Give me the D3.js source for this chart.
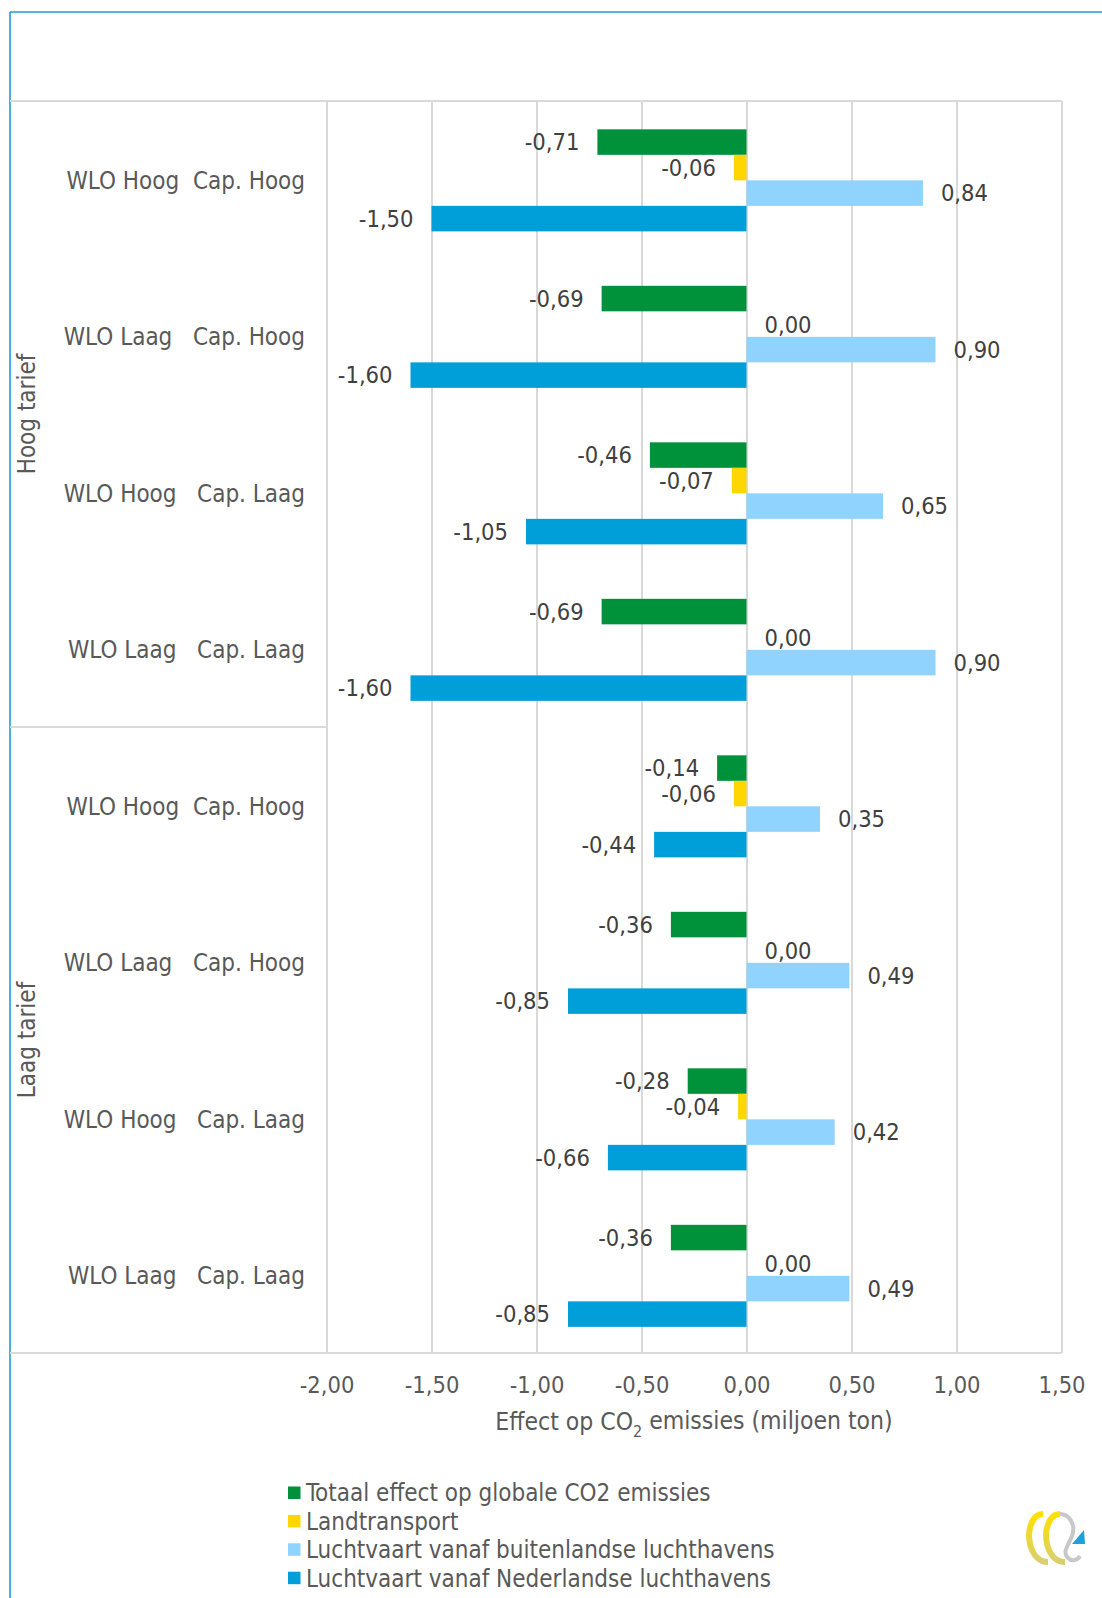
<!DOCTYPE html>
<html>
<head>
<meta charset="utf-8">
<script src="https://cdn.jsdelivr.net/npm/d3@7"></script>
<style>
  html, body { margin: 0; padding: 0; background: #ffffff; }
  svg { display: block; }
  text { font-family: "DejaVu Sans Condensed", "DejaVu Sans", sans-serif; font-stretch: condensed; }
</style>
</head>
<body>
<svg id="chart" width="1102" height="1598"></svg>
<script>
// ---- Data ----
const categories = [
  "WLO Hoog  Cap. Hoog", "WLO Laag   Cap. Hoog", "WLO Hoog   Cap. Laag", "WLO Laag   Cap. Laag",
  "WLO Hoog  Cap. Hoog", "WLO Laag   Cap. Hoog", "WLO Hoog   Cap. Laag", "WLO Laag   Cap. Laag"
];
const groups = ["Hoog tarief", "Laag tarief"];
const seriesNames = [
  "Totaal effect op globale CO2 emissies",
  "Landtransport",
  "Luchtvaart vanaf buitenlandse luchthavens",
  "Luchtvaart vanaf Nederlandse luchthavens"
];
const totaal       = [-0.71, -0.69, -0.46, -0.69, -0.14, -0.36, -0.28, -0.36];
const landtransport = [-0.06,  0.00, -0.07,  0.00, -0.06,  0.00, -0.04,  0.00];
const buitenlands  = [ 0.84,  0.90,  0.65,  0.90,  0.35,  0.49,  0.42,  0.49];
const nederlands   = [-1.50, -1.60, -1.05, -1.60, -0.44, -0.85, -0.66, -0.85];
const seriesValues = [totaal, landtransport, buitenlands, nederlands];
const xTicks = [-2.0, -1.5, -1.0, -0.5, 0.0, 0.5, 1.0, 1.5];
const axisTitle = ["Effect op CO", "2", " emissies (miljoen ton)"];

const colors = ["#00923A", "#FFD600", "#8FD3FE", "#009FDA"];

// ---- Layout ----
const svg = d3.select("#chart");
const plotLeft = 326.5, plotRight = 1061.5, plotTop = 101, plotBottom = 1353;
const frameLeft = 10, frameTop = 12;
const fmt = v => d3.format(".2f")(v).replace(".", ",").replace("\u2212", "-");

const x = d3.scaleLinear().domain([-2, 1.5]).range([plotLeft, plotRight]);
const y = d3.scaleBand().domain(d3.range(categories.length)).range([plotTop, plotBottom]);
const bw = y.bandwidth();
const inner = d3.scaleBand().domain(d3.range(seriesNames.length))
  .range([bw * 0.181, bw * 0.833]);

// outer blue frame
svg.append("line").attr("x1", frameLeft).attr("x2", 1102).attr("y1", frameTop).attr("y2", frameTop)
  .attr("stroke", "#1E9BD7").attr("stroke-width", 1.6);
svg.append("line").attr("x1", frameLeft).attr("x2", frameLeft).attr("y1", frameTop).attr("y2", 1598)
  .attr("stroke", "#1E9BD7").attr("stroke-width", 1.6);

// gridlines
const gridColor = "#D9D9D9";
const grid = svg.append("g").attr("transform", `translate(0,${plotBottom})`)
  .call(d3.axisBottom(x).tickValues(xTicks).tickSize(-(plotBottom - plotTop)).tickFormat(""));
grid.select(".domain").remove();
grid.selectAll("line").attr("stroke", gridColor).attr("stroke-width", 2);

// horizontal frame lines
svg.append("line").attr("x1", frameLeft).attr("x2", plotRight).attr("y1", plotTop).attr("y2", plotTop)
  .attr("stroke", gridColor).attr("stroke-width", 2);
svg.append("line").attr("x1", frameLeft).attr("x2", plotRight).attr("y1", plotBottom).attr("y2", plotBottom)
  .attr("stroke", gridColor).attr("stroke-width", 2);
// group separator in label column
const sepY = y(4);
svg.append("line").attr("x1", frameLeft).attr("x2", plotLeft).attr("y1", sepY).attr("y2", sepY)
  .attr("stroke", gridColor).attr("stroke-width", 2);

// bars
const barsG = svg.append("g");
seriesValues.forEach((vals, si) => {
  const g = barsG.append("g");
  g.selectAll("rect").data(vals).join("rect")
    .attr("x", d => x(Math.min(0, d)))
    .attr("width", d => Math.abs(x(d) - x(0)))
    .attr("y", (d, i) => y(i) + inner(si))
    .attr("height", inner.bandwidth())
    .attr("fill", colors[si]);
  g.selectAll("text").data(vals).join("text")
    .attr("x", d => d < 0 ? x(d) - 18 : x(d) + 18)
    .attr("y", (d, i) => y(i) + inner(si) + inner.bandwidth() / 2 + (d === 0 ? 1 : 0))
    .attr("dy", "0.35em")
    .attr("text-anchor", d => d < 0 ? "end" : "start")
    .attr("font-size", 23.5)
    .attr("fill", "#404040")
    .text(d => fmt(d));
});

// category labels
svg.append("g").selectAll("text").data(categories).join("text")
  .attr("x", 305)
  .attr("y", (d, i) => y(i) + bw / 2 + 1)
  .attr("dy", "0.35em")
  .attr("text-anchor", "end")
  .attr("font-size", 24)
  .attr("fill", "#595959")
  .attr("xml:space", "preserve")
  .style("white-space", "pre")
  .text(d => d);

// group labels (rotated)
svg.append("g").selectAll("text").data(groups).join("text")
  .attr("transform", (d, i) => `translate(27,${y(i * 4) + bw * 2}) rotate(-90)`)
  .attr("dy", "0.35em")
  .attr("text-anchor", "middle")
  .attr("font-size", 24)
  .attr("fill", "#595959")
  .text(d => d);

// x axis tick labels
const ax = svg.append("g").attr("transform", `translate(0,${plotBottom})`)
  .call(d3.axisBottom(x).tickValues(xTicks).tickSize(0).tickPadding(0).tickFormat(fmt));
ax.select(".domain").remove();
ax.selectAll("text").attr("y", 32).attr("dy", "0.35em").attr("font-size", 23.5).attr("fill", "#595959")
  .attr("font-family", null);

// axis title
const at = svg.append("text").attr("x", (plotLeft + plotRight) / 2).attr("y", 1421).attr("dy", "0.35em")
  .attr("text-anchor", "middle").attr("font-size", 24.5).attr("fill", "#595959");
at.append("tspan").text(axisTitle[0]);
at.append("tspan").attr("font-size", 16).attr("dy", "0.45em").text(axisTitle[1]);
at.append("tspan").attr("dy", "-0.3em").text(axisTitle[2]);

// legend
const lg = svg.append("g").selectAll("g").data(seriesNames).join("g")
  .attr("transform", (d, i) => `translate(288,${1493 + i * 28.4})`);
lg.append("rect").attr("x", 0).attr("y", -6.5).attr("width", 12.5).attr("height", 12.5)
  .attr("fill", (d, i) => colors[i]);
lg.append("text").attr("x", 18).attr("dy", "0.35em").attr("font-size", 24).attr("fill", "#595959")
  .text(d => d);

// logo (decorative)
const logo = svg.append("g").attr("transform", "translate(1010,1500)");
const yg = logo.append("defs").append("linearGradient").attr("id", "yg")
  .attr("x1", 0).attr("y1", 0).attr("x2", 0).attr("y2", 1);
yg.append("stop").attr("offset", "0%").attr("stop-color", "#FFE000");
yg.append("stop").attr("offset", "100%").attr("stop-color", "#D8D070");
logo.append("path").attr("d", "M33,14 C22,14 17,30 20,44 C23,56 30,62 38,62")
  .attr("fill", "none").attr("stroke", "url(#yg)").attr("stroke-width", 6);
logo.append("path").attr("d", "M50,14 C39,14 34,30 37,44 C40,56 47,62 55,62")
  .attr("fill", "none").attr("stroke", "url(#yg)").attr("stroke-width", 6);
logo.append("path").attr("d", "M50,14 C60,14 66,26 62,36 C58,46 52,52 58,58 C62,62 68,60 70,56")
  .attr("fill", "none").attr("stroke", "#C8C8C8").attr("stroke-width", 4);
logo.append("path").attr("d", "M62,44 L74,30 L75,44 Z").attr("fill", "#1EA0DC");
</script>
</body>
</html>
